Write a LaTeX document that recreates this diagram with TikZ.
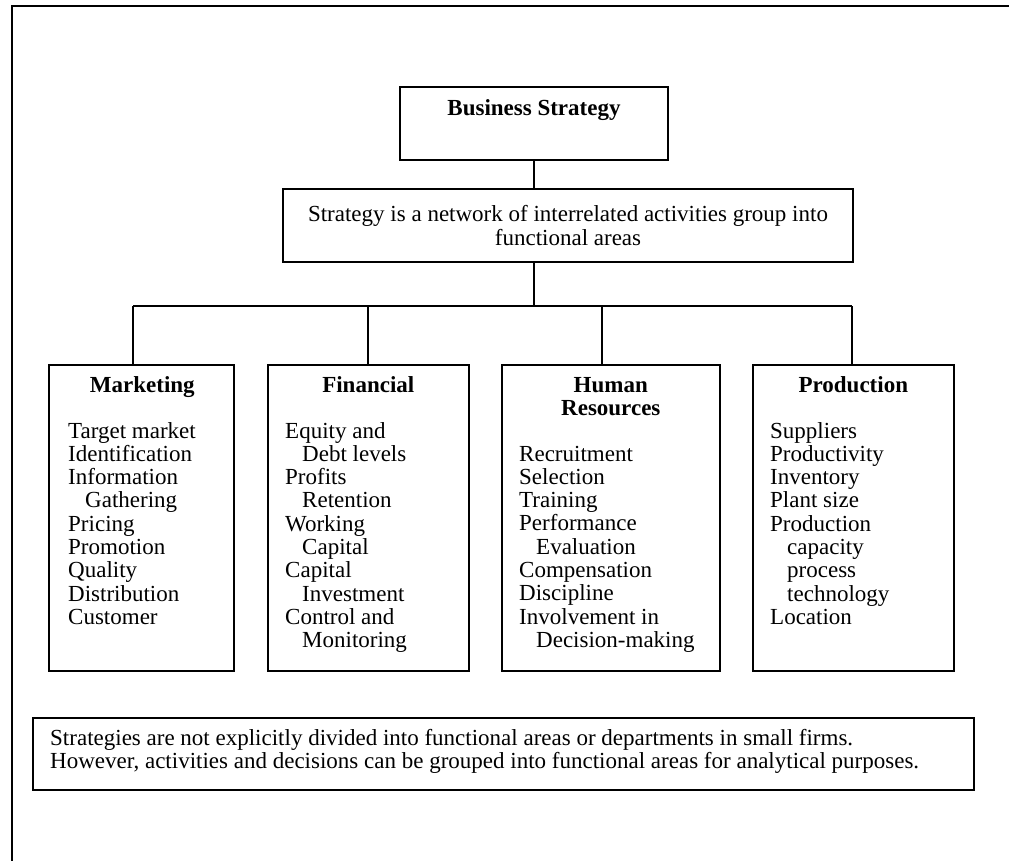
\documentclass[tikz,border=0pt]{standalone}
\usepackage{fontspec}
\setmainfont{Liberation Serif}
\usetikzlibrary{calc}

\newcommand{\indt}{\hspace*{17pt}}

\begin{document}
\begin{tikzpicture}[x=1pt, y=-1pt,
    box/.style={draw, line width=1.6pt, inner sep=0pt},
    link/.style={line width=1.4pt},
    txt/.style={font=\fontsize{23}{23.3}\selectfont, inner sep=0pt}]
\useasboundingbox (0,0) rectangle (1009,861);
% frame of the page
\draw[line width=1.6pt] (12,861) -- (12,6) -- (1009,6);

% top of the tree
\node[box, minimum width=268pt, minimum height=73pt] (bs) at (534,123.5) {};
\node[txt, anchor=base] (bs-t) at ($(bs.north)+(0,29)$) {\bfseries Business Strategy};
\node[box, txt, align=center, minimum width=570pt, minimum height=73pt] (net) at (568,225.5)
    {Strategy is a network of interrelated activities group into\\functional areas};
\draw[link] (bs.south) -- (bs.south |- net.north);

% the four areas
\node[box, anchor=north west, minimum width=185pt, minimum height=306pt] (mkt)  at (48,364)  {};
\node[box, anchor=north west, minimum width=201pt, minimum height=306pt] (fin)  at (267,364) {};
\node[box, anchor=north west, minimum width=218pt, minimum height=306pt] (hr)   at (501,364) {};
\node[box, anchor=north west, minimum width=201pt, minimum height=306pt] (prod) at (752,364) {};

\coordinate (hub)   at (534,306);
\coordinate (dmkt)  at (133,306);
\coordinate (dfin)  at (368,306);
\coordinate (dhr)   at (602,306);
\coordinate (dprod) at (852,306);
\draw[link] (bs.south |- net.south) -- (hub);
\draw[link] (dmkt) -- (dprod);
\draw[link] (dmkt)  -- (dmkt |- mkt.north);
\draw[link] (dfin)  -- (dfin |- fin.north);
\draw[link] (dhr)   -- (dhr |- hr.north);
\draw[link] (dprod) -- (dprod |- prod.north);

% headings
\node[txt, anchor=base] (mkt-h)  at ($(mkt.north)+(1,28)$)  {\bfseries Marketing};
\node[txt, anchor=base] (fin-h)  at ($(fin.north)+(0,28)$)  {\bfseries Financial};
\node[txt, anchor=base] (hr-h1)  at ($(hr.north)+(0,28)$)   {\bfseries Human};
\node[txt, anchor=base] (hr-h2)  at ($(hr.north)+(0,51)$)   {\bfseries Resources};
\node[txt, anchor=base] (prod-h) at ($(prod.north)+(0,28)$) {\bfseries Production};

% items
\foreach \t [count=\i] in {Target market, Identification, Information, \indt Gathering,
    Pricing, Promotion, Quality, Distribution, Customer}{
    \node[txt, anchor=base west] (mkt-\i) at ($(mkt.north west)+(20,{74+23.3*(\i-1)})$) {\t};
}
\foreach \t [count=\i] in {Equity and, \indt Debt levels, Profits, \indt Retention,
    Working, \indt Capital, Capital, \indt Investment, Control and, \indt Monitoring}{
    \node[txt, anchor=base west] (fin-\i) at ($(fin.north west)+(18,{74+23.3*(\i-1)})$) {\t};
}
\foreach \t [count=\i] in {Recruitment, Selection, Training, Performance, \indt Evaluation,
    Compensation, Discipline, Involvement in, \indt Decision-making}{
    \node[txt, anchor=base west] (hr-\i) at ($(hr.north west)+(18,{97+23.3*(\i-1)})$) {\t};
}
\foreach \t [count=\i] in {Suppliers, Productivity, Inventory, Plant size, Production,
    \indt capacity, \indt process, \indt technology, Location}{
    \node[txt, anchor=base west] (prod-\i) at ($(prod.north west)+(18,{74+23.3*(\i-1)})$) {\t};
}

% note at the bottom
\node[box, anchor=north west, minimum width=941pt, minimum height=72pt] (note) at (32,717) {};
\node[txt, anchor=base west] (note-1) at ($(note.north west)+(18,28)$)
    {Strategies are not explicitly divided into functional areas or departments in small firms.};
\node[txt, anchor=base west] (note-2) at ($(note.north west)+(18,51)$)
    {However, activities and decisions can be grouped into functional areas for analytical purposes.};
\end{tikzpicture}
\end{document}
